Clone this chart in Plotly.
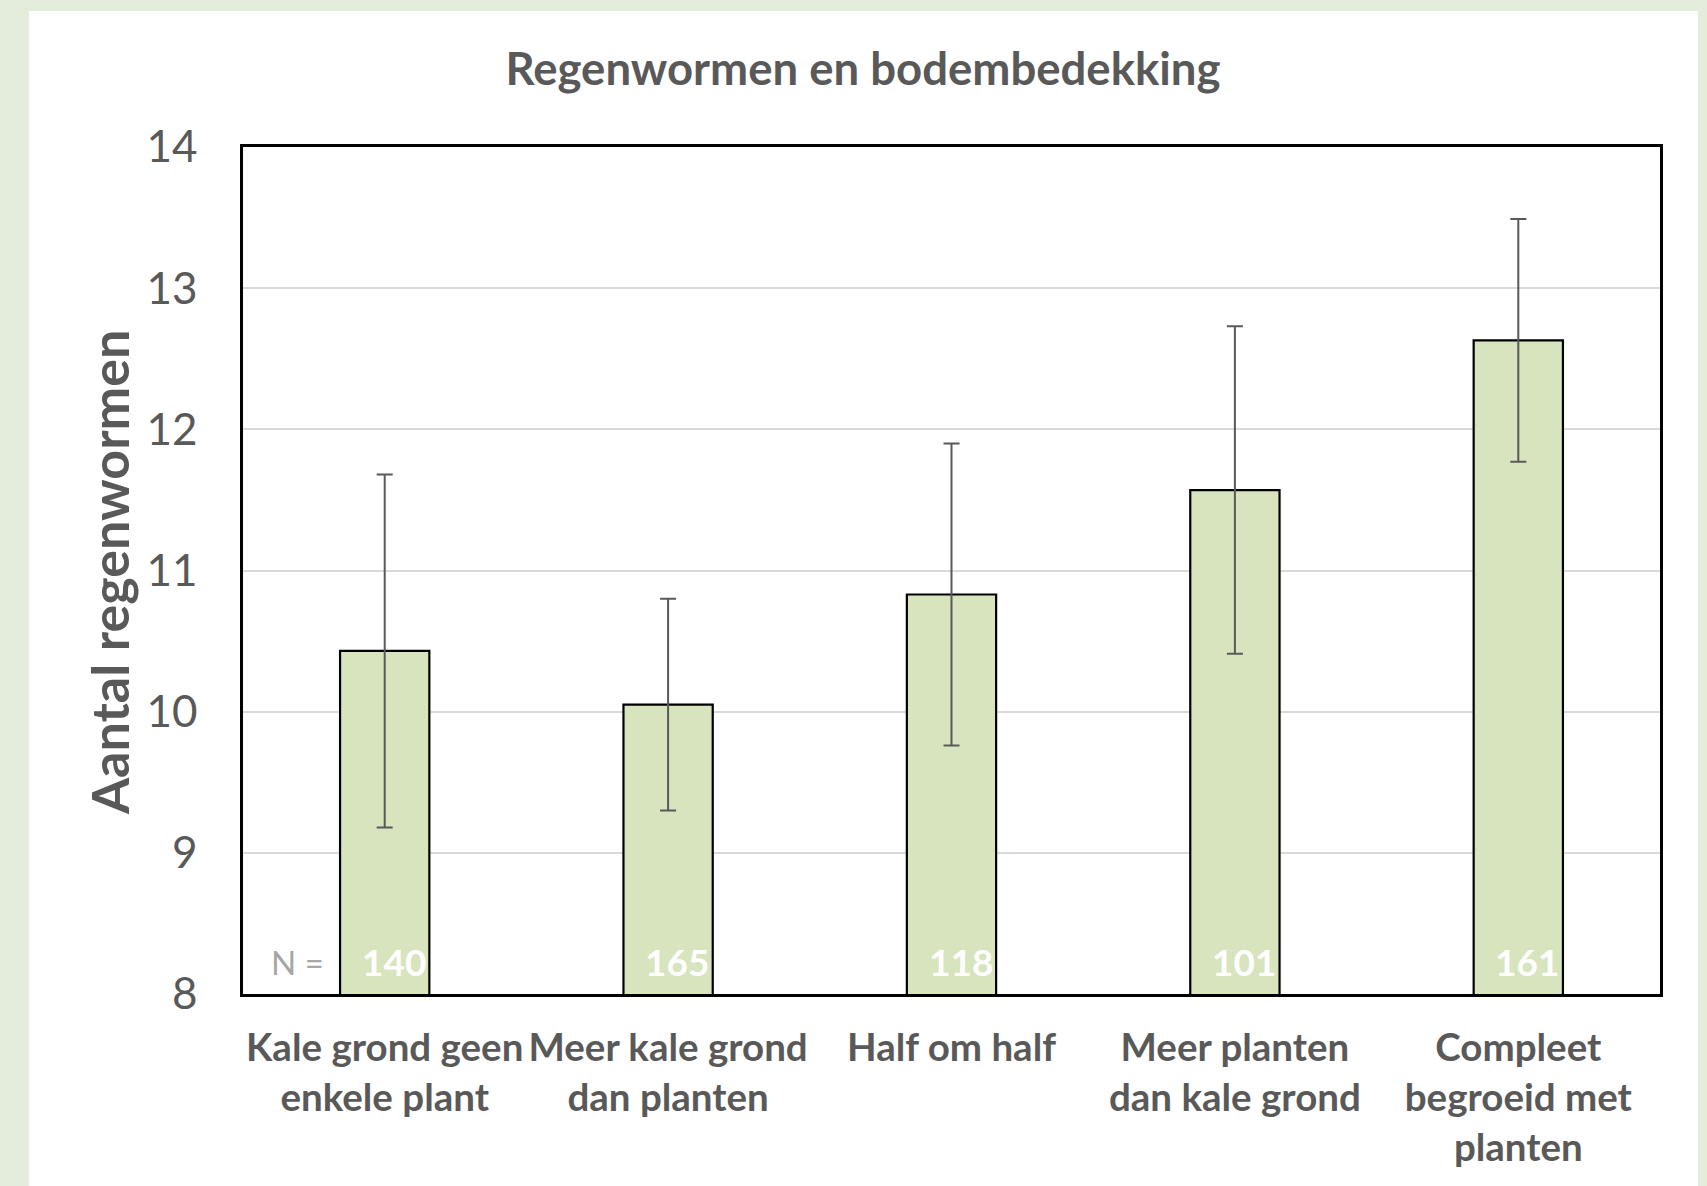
import plotly.graph_objects as go

categories = ["Kale grond geen<br>enkele plant", "Meer kale grond<br>dan planten", "Half om half",
              "Meer planten<br>dan kale grond", "Compleet<br>begroeid met<br>planten"]
means = [10.43, 10.05, 10.83, 11.57, 12.63]
errors = [1.25, 0.75, 1.07, 1.16, 0.86]
n_values = ["140", "165", "118", "101", "161"]
y_ticks = [8, 9, 10, 11, 12, 13, 14]

W, H = 1707, 1186
L, R, T, B = 243, 1660, 147, 994

def px_to_paper_x(px):
    return (px - L) / (R - L)

def py_to_paper_y(py):
    return (B - py) / (B - T)

fig = go.Figure()
fig.add_trace(go.Bar(
    x=categories, y=means, base=0, width=0.315,
    marker=dict(color="#D7E4BD", line=dict(color="#000000", width=2.2)),
    error_y=dict(type="data", array=errors, visible=True, color="#595959", thickness=2, width=8),
    showlegend=False, hoverinfo="skip",
))

annotations = []
for c, n in zip(categories, n_values):
    annotations.append(dict(x=c, y=8.23, xref="x", yref="y", text=n, showarrow=False,
                            xanchor="center", yanchor="middle", xshift=9,
                            font=dict(family="Lato", size=37, color="#FFFFFF", weight="bold")))
annotations.append(dict(x=px_to_paper_x(297), y=8.23, xref="paper", yref="y", text="N =", showarrow=False,
                        xanchor="center", yanchor="middle",
                        font=dict(family="Lato", size=33, color="#A6A6A6")))
annotations.append(dict(x=px_to_paper_x(109), y=py_to_paper_y(573), xref="paper", yref="paper",
                        text="Aantal regenwormen", textangle=-90, showarrow=False,
                        xanchor="center", yanchor="middle",
                        font=dict(family="Lato", size=52, color="#595959", weight="bold")))

fig.update_layout(
    width=W, height=H,
    margin=dict(l=L, r=W - R, t=T, b=H - B),
    paper_bgcolor="#E4EDDB",
    plot_bgcolor="#FFFFFF",
    title=dict(text="Regenwormen en bodembedekking", x=863 / W, xanchor="center",
               y=1 - 69 / H, yanchor="middle",
               font=dict(family="Lato", size=45.5, color="#595959", weight="bold")),
    shapes=[dict(type="rect", xref="paper", yref="paper", layer="below",
                 x0=px_to_paper_x(29), x1=px_to_paper_x(1698),
                 y0=py_to_paper_y(11), y1=py_to_paper_y(H + 20),
                 fillcolor="#FFFFFF", line=dict(width=0))],
    annotations=annotations,
)
fig.update_yaxes(range=[8, 14], tickvals=y_ticks, showgrid=True, gridcolor="#D9D9D9", gridwidth=1.5,
                 showline=True, linecolor="#000000", linewidth=2.5, mirror=True, zeroline=False,
                 ticks="", ticklabelstandoff=34,
                 tickfont=dict(family="Lato", size=44, color="#595959"))
fig.update_xaxes(showline=True, linecolor="#000000", linewidth=2.5, mirror=True, tickangle=0,
                 ticks="", ticklabelstandoff=18,
                 tickfont=dict(family="Lato", size=38.5, color="#595959", weight="bold"))

fig.write_html("out.html", config={"displayModeBar": False},
               post_script="document.body.style.margin='0';document.body.style.background='#E4EDDB';")
